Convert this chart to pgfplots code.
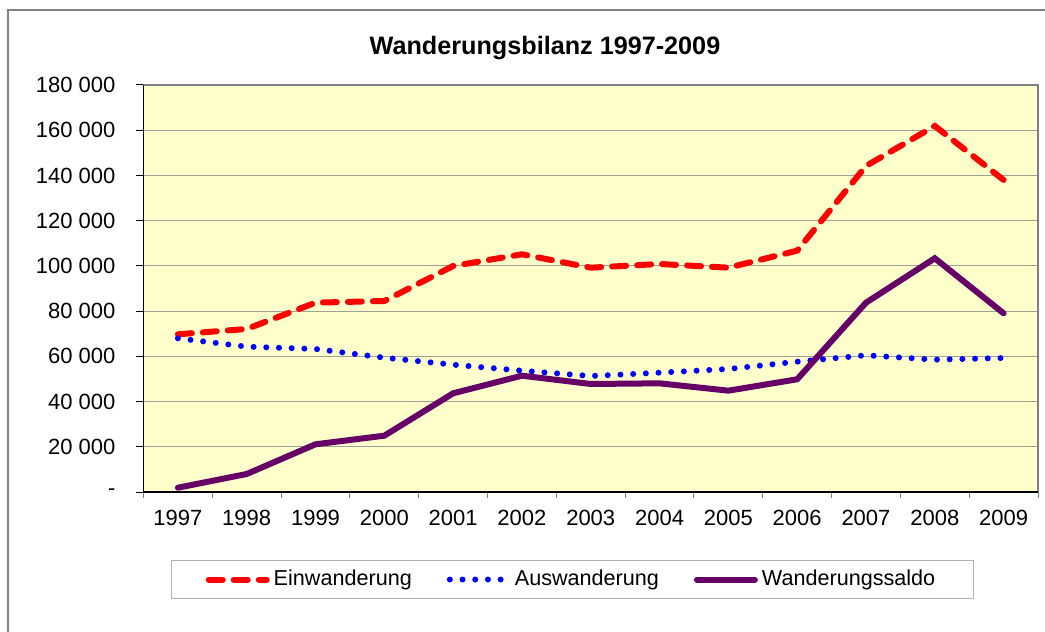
\documentclass[border=0pt]{standalone}
\usepackage{pgfplots}
\pgfplotsset{compat=1.18}
\usepackage{fontspec}
\setmainfont{Liberation Sans}
\definecolor{plotbg}{RGB}{255,255,204}
\definecolor{saldo}{RGB}{102,0,102}
\definecolor{gridc}{RGB}{160,160,150}
\begin{document}
\begin{tikzpicture}
\useasboundingbox (0,0) rectangle (522.5pt,316pt);
% outer chart frame (cut at right and bottom)
\draw[gray, line width=0.8pt] (4pt,0pt) -- (4pt,311pt) -- (522.5pt,311pt);
\node[font=\fontsize{12.6}{15}\selectfont\bfseries] at (272.5pt,292pt) {Wanderungsbilanz 1997-2009};
\begin{axis}[
    at={(71.75pt,70pt)}, anchor=south west,
    scale only axis,
    width=447.25pt, height=203.5pt,
    xmin=-0.5, xmax=12.5,
    ymin=0, ymax=180000,
    scaled y ticks=false,
    axis background/.style={fill=plotbg},
    axis line style={draw=gray, line width=0.9pt},
    xtick={0,...,12},
    xticklabels={1997,1998,1999,2000,2001,2002,2003,2004,2005,2006,2007,2008,2009},
    major x tick style={draw=none},
    minor xtick={-0.5,0.5,...,12.5},
    minor x tick style={gray, line width=0.5pt},
    minor tick length=3pt,
    ytick={0,20000,...,180000},
    yticklabels={-,20 000,40 000,60 000,80 000,100 000,120 000,140 000,160 000,180 000},
    ytick style={black, line width=0.5pt},
    major tick length=3.5pt,
    tick align=outside,
    xtick pos=bottom, ytick pos=left,
    ymajorgrids=true,
    grid style={gridc, line width=0.6pt},
    tick label style={font=\fontsize{11}{13}\selectfont},
    yticklabel style={xshift=-7pt},
    xticklabel style={yshift=-2pt},
    legend columns=3,
    legend style={at={(0.4796,-0.215)}, anchor=center, draw=gray!60, line width=0.6pt,
        font=\fontsize{10.8}{13}\selectfont, inner xsep=17pt, inner ysep=3pt,
        /tikz/every even column/.append style={column sep=15.5pt}},
    legend image code/.code={\draw[#1] (0pt,0pt) -- (29pt,0pt);},
    clip=false,
]
\addplot[red, line width=3pt, line cap=round, dash pattern=on 7pt off 5.5pt] coordinates {
(0,69750) (1,72100) (2,83730) (3,84480) (4,99960) (5,105130) (6,99210)
(7,100840) (8,99210) (9,106730) (10,144190) (11,161880) (12,138000)};
\addlegendentry{Einwanderung}
\addplot[blue, line width=3pt, line cap=round, dash pattern=on 0pt off 6.35pt] coordinates {
(0,67970) (1,64270) (2,63250) (3,59400) (4,56300) (5,53650) (6,51300)
(7,52770) (8,54400) (9,57630) (10,60460) (11,58520) (12,59270)};
\addlegendentry{Auswanderung}
\addplot[saldo, line width=3pt, line cap=round] coordinates {
(0,1900) (1,7960) (2,21100) (3,24900) (4,43650) (5,51440) (6,47770)
(7,48060) (8,44810) (9,49850) (10,83730) (11,103360) (12,79030)};
\addlegendentry{Wanderungssaldo}
\draw[black, line width=0.9pt] (rel axis cs:0,1) -- (rel axis cs:0,0) -- (rel axis cs:1,0);
\end{axis}
\end{tikzpicture}
\end{document}
